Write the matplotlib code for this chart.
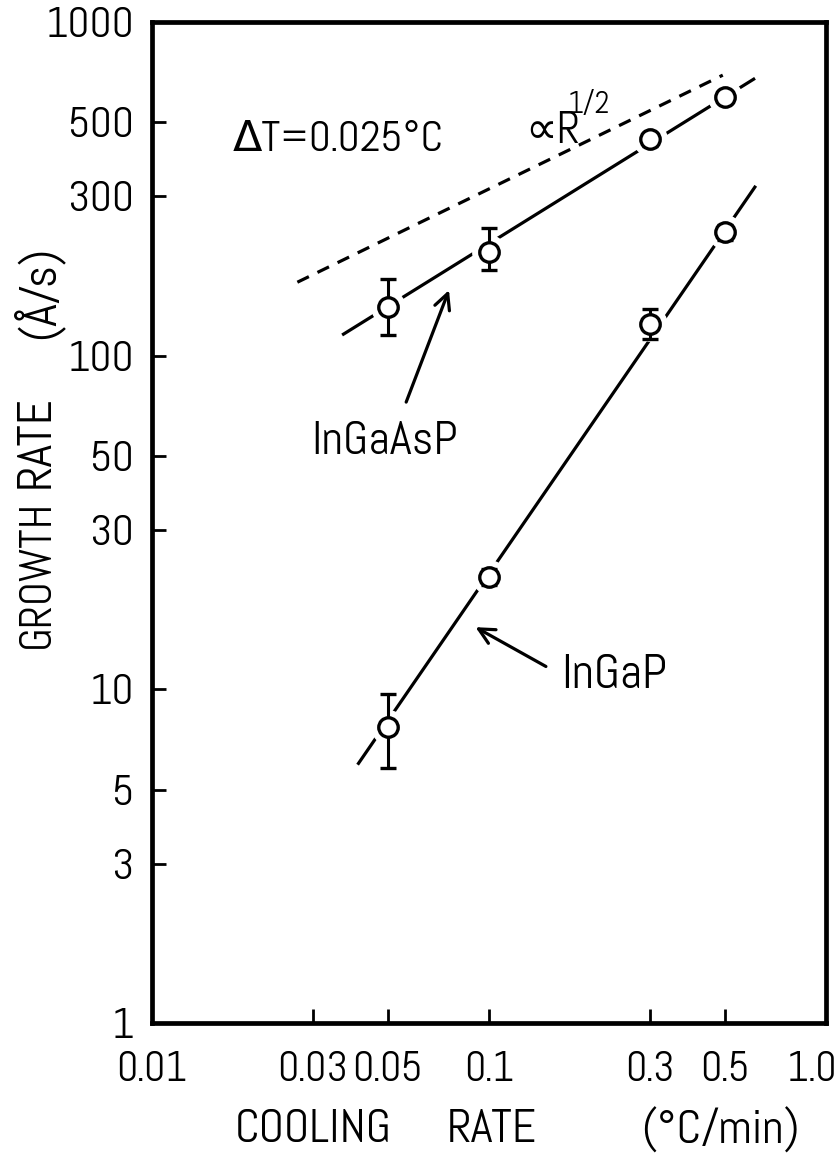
import matplotlib
matplotlib.use("Agg")
import matplotlib.pyplot as plt
from matplotlib.transforms import ScaledTranslation
import numpy as np

FONT = ['Abel', 'DejaVu Sans']
plt.rcParams['font.family'] = FONT

# Cooling rate (°C/min) and growth rate (Å/s)
rate = [0.05, 0.1, 0.3, 0.5]

ingaasp = [140, 205, 445, 595]
ingaasp_lo = [115, 180, 425, 570]
ingaasp_hi = [170, 242, 465, 620]

ingap = [7.7, 21.7, 124, 234]
ingap_lo = [5.8, 20.5, 112, 222]
ingap_hi = [9.7, 23.0, 138, 247]

# Fitted lines (end points)
fit_ingaasp_x = [0.037, 0.61]
fit_ingaasp_y = [116, 674]
fit_ingap_x = [0.041, 0.615]
fit_ingap_y = [6.0, 320]
sqrt_x = [0.027, 0.494]
sqrt_y = [166, 693]

xticks = [0.01, 0.03, 0.05, 0.1, 0.3, 0.5, 1.0]
xticklabels = ['0.01', '0.03', '0.05', '0.1', '0.3', '0.5', '1.0']
yticks = [1, 3, 5, 10, 30, 50, 100, 300, 500, 1000]
yticklabels = ['1', '3', '5', '10', '30', '50', '100', '300', '500', '1000']

W, H = 840, 1156
fig = plt.figure(figsize=(W / 100, H / 100), dpi=100)
ax = fig.add_axes([152 / W, 1 - 1023 / H, (826 - 152) / W, (1023 - 22) / H])
ax.set_xscale('log')
ax.set_yscale('log')
ax.set_xlim(0.01, 1.0)
ax.set_ylim(1, 1000)

lw = 2.3
ax.plot(fit_ingaasp_x, fit_ingaasp_y, color='black', lw=lw, zorder=2)
ax.plot(fit_ingap_x, fit_ingap_y, color='black', lw=lw, zorder=2)
ax.plot(sqrt_x, sqrt_y, color='black', lw=lw, ls=(0, (4, 3)), zorder=2)

for ys, lo, hi in [(ingaasp, ingaasp_lo, ingaasp_hi), (ingap, ingap_lo, ingap_hi)]:
    ys = np.array(ys)
    err = [ys - np.array(lo), np.array(hi) - ys]
    # white halo so the fit line breaks around each point
    ax.plot(rate, ys, 'o', ms=24, mfc='white', mec='white', zorder=3)
    ax.errorbar(rate, ys, yerr=err, fmt='none', ecolor='black', elinewidth=2.2,
                capsize=6, capthick=2.4, zorder=4)
    ax.plot(rate, ys, 'o', ms=14, mfc='white', mec='black', mew=2.4, zorder=5)

for s in ['left', 'bottom', 'right', 'top']:
    ax.spines[s].set_linewidth(3.4)

ax.minorticks_off()
ax.set_xticks(xticks)
ax.set_xticklabels(xticklabels)
ax.set_yticks(yticks)
ax.set_yticklabels(yticklabels)
ax.tick_params(direction='in', length=10, width=2)
ax.tick_params(axis='y', labelsize=31, pad=13)
ax.tick_params(axis='x', labelsize=30, pad=20)
# keep the last x label inside the figure
lab = ax.get_xticklabels()[-1]
lab.set_transform(lab.get_transform() + ScaledTranslation(-10 / 72, 0, fig.dpi_scale_trans))

# axis titles
fig.text(313 / W, 1 - 1130 / H, 'COOLING', fontsize=34, ha='center', va='center')
fig.text(492 / W, 1 - 1130 / H, 'RATE', fontsize=34, ha='center', va='center')
fig.text(720 / W, 1 - 1130 / H, '(°C/min)', fontsize=34, ha='center', va='center')
ylab_kw = dict(rotation=90, rotation_mode='anchor', ha='center', va='center')
fig.text(37 / W, 1 - 574 / H, 'GROWTH', fontsize=32, **ylab_kw)
fig.text(37 / W, 1 - 442 / H, 'RATE', fontsize=35, **ylab_kw)
fig.text(37 / W, 1 - 292 / H, '(Å/s)', fontsize=35, **ylab_kw)

ax.text(0.0174, 440, 'ΔT=0.025°C', fontsize=31, va='center', ha='left')
ax.text(0.128, 470, '∝R', fontsize=32, va='center', ha='left')
ax.text(0.171, 565, '1/2', fontsize=22, va='center', ha='left')

ax.text(0.049, 55, 'InGaAsP', fontsize=34, va='center', ha='center')
ax.annotate('', xy=(0.0766, 160), xytext=(0.0564, 71.3),
            arrowprops=dict(arrowstyle='->', lw=2.3, mutation_scale=28, color='black'))
ax.text(0.235, 11.0, 'InGaP', fontsize=35, va='center', ha='center')
ax.annotate('', xy=(0.0897, 15.5), xytext=(0.150, 11.6),
            arrowprops=dict(arrowstyle='->', lw=2.3, mutation_scale=28, color='black'))

fig.savefig('out.png', dpi=100)
